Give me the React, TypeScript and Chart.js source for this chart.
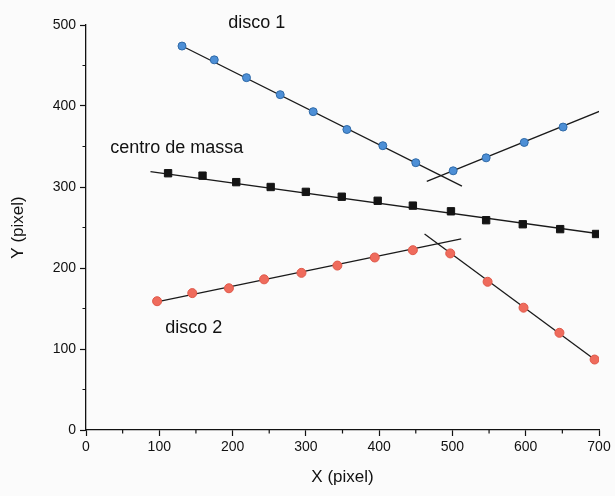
import React, { useEffect, useRef } from "react";
import { Chart, registerables } from "chart.js";

Chart.register(...registerables);

// disco 1 (blue circles)
const disco1X = [131, 175, 219, 265, 310, 356, 405, 450, 501, 546, 598, 651];
const disco1Y = [474, 457, 435, 414, 393, 371, 351, 330, 320, 336, 355, 374];
// centro de massa (black squares)
const cmX = [112, 159, 205, 252, 300, 349, 398, 446, 498, 546, 596, 647, 696];
const cmY = [317, 314, 306, 300, 294, 288, 283, 277, 270, 259, 254, 248, 242];
// disco 2 (red circles)
const disco2X = [97, 145, 195, 243, 294, 343, 394, 446, 497, 548, 597, 646, 694];
const disco2Y = [159, 169, 175, 186, 194, 203, 213, 222, 218, 183, 151, 120, 87];

// fitted lines (end points)
const fit1aX = [129, 513];
const fit1aY = [475, 301];
const fit1bX = [465, 702];
const fit1bY = [307, 394];
const fitCmX = [88, 702];
const fitCmY = [319, 242];
const fit2aX = [95, 512];
const fit2aY = [158, 236];
const fit2bX = [462, 694];
const fit2bY = [242, 87];

const xMajorTicks = [0, 100, 200, 300, 400, 500, 600, 700];
const yMajorTicks = [0, 100, 200, 300, 400, 500];
const xMinorTicks = [50, 150, 250, 350, 450, 550, 650];
const yMinorTicks = [50, 150, 250, 350, 450];

const labelTexts = ["disco 1", "centro de massa", "disco 2"];
const labelX = [194, 33, 108];
const labelY = [503, 348, 126];

const FONT = "'Liberation Sans', Arial, sans-serif";

function pts(xs: number[], ys: number[]) {
  return xs.map((x, i) => ({ x, y: ys[i] }));
}

export default function App() {
  const ref = useRef<HTMLCanvasElement | null>(null);

  useEffect(() => {
    if (!ref.current) return;

    const bgPlugin = {
      id: "bg",
      beforeDraw(chart: any) {
        const ctx = chart.ctx;
        ctx.save();
        ctx.fillStyle = "#fbfbfb";
        ctx.fillRect(0, 0, chart.width, chart.height);
        ctx.restore();
      },
    };

    const extrasPlugin = {
      id: "extras",
      afterDraw(chart: any) {
        const ctx = chart.ctx;
        const xs = chart.scales.x;
        const ys = chart.scales.y;
        ctx.save();
        ctx.strokeStyle = "#111";
        ctx.lineWidth = 1.2;
        ctx.beginPath();
        xMinorTicks.forEach((v) => {
          const px = xs.getPixelForValue(v);
          ctx.moveTo(px, ys.bottom);
          ctx.lineTo(px, ys.bottom + 3.5);
        });
        yMinorTicks.forEach((v) => {
          const py = ys.getPixelForValue(v);
          ctx.moveTo(xs.left, py);
          ctx.lineTo(xs.left - 3.5, py);
        });
        ctx.stroke();

        ctx.fillStyle = "#111";
        ctx.font = `18px ${FONT}`;
        ctx.textBaseline = "middle";
        ctx.textAlign = "left";
        labelTexts.forEach((t, i) => {
          ctx.fillText(t, xs.getPixelForValue(labelX[i]), ys.getPixelForValue(labelY[i]));
        });
        ctx.restore();
      },
    };

    const lineDs = (xs: number[], ys: number[]) => ({
      data: pts(xs, ys),
      showLine: true,
      borderColor: "#1a1a1a",
      borderWidth: 1.3,
      pointRadius: 0,
      fill: false,
    });

    const chart = new Chart(ref.current, {
      type: "scatter",
      data: {
        datasets: [
          {
            data: pts(disco1X, disco1Y),
            pointStyle: "circle",
            pointRadius: 4,
            backgroundColor: "#4d8fd6",
            borderColor: "#2f6aa8",
            borderWidth: 1,
          },
          {
            data: pts(cmX, cmY),
            pointStyle: "rect",
            pointRadius: 5.2,
            backgroundColor: "#141414",
            borderColor: "#141414",
            borderWidth: 1,
          },
          {
            data: pts(disco2X, disco2Y),
            pointStyle: "circle",
            pointRadius: 4.5,
            backgroundColor: "#ef6b5c",
            borderColor: "#e0594a",
            borderWidth: 1,
          },
          lineDs(fit1aX, fit1aY),
          lineDs(fit1bX, fit1bY),
          lineDs(fitCmX, fitCmY),
          lineDs(fit2aX, fit2aY),
          lineDs(fit2bX, fit2bY),
        ] as any,
      },
      options: {
        responsive: false,
        animation: false,
        layout: { padding: { left: 0, top: 25, right: 16, bottom: 0 } },
        plugins: {
          legend: { display: false },
          tooltip: { enabled: false },
        },
        scales: {
          x: {
            type: "linear",
            min: 0,
            max: 700,
            afterBuildTicks(scale: any) {
              scale.ticks = xMajorTicks.map((v) => ({ value: v }));
            },
            afterFit(scale: any) {
              scale.height = 66;
            },
            grid: {
              drawOnChartArea: false,
              drawTicks: true,
              tickLength: 6,
              tickColor: "#111",
              tickWidth: 1.2,
            },
            border: { display: true, color: "#111", width: 1.3 },
            ticks: {
              color: "#111",
              font: { family: FONT, size: 14 },
              padding: 3,
              maxRotation: 0,
              autoSkip: false,
            },
            title: {
              display: true,
              text: "X (pixel)",
              color: "#111",
              font: { family: FONT, size: 17 },
              padding: { top: 0, bottom: 8 },
            },
          },
          y: {
            type: "linear",
            min: 0,
            max: 500,
            afterBuildTicks(scale: any) {
              scale.ticks = yMajorTicks.map((v) => ({ value: v }));
            },
            afterFit(scale: any) {
              scale.width = 86;
            },
            grid: {
              drawOnChartArea: false,
              drawTicks: true,
              tickLength: 6,
              tickColor: "#111",
              tickWidth: 1.2,
            },
            border: { display: true, color: "#111", width: 1.3 },
            ticks: {
              color: "#111",
              font: { family: FONT, size: 14 },
              padding: 4,
              autoSkip: false,
            },
            title: {
              display: true,
              text: "Y (pixel)",
              color: "#111",
              font: { family: FONT, size: 17 },
              padding: { top: 8, bottom: 0 },
            },
          },
        },
      } as any,
      plugins: [bgPlugin, extrasPlugin],
    });

    return () => chart.destroy();
  }, []);

  return (
    <div style={{ position: "absolute", left: 0, top: 0, width: 615, height: 496 }}>
      <canvas ref={ref} width={615} height={496} style={{ width: 615, height: 496, display: "block" }} />
    </div>
  );
}
